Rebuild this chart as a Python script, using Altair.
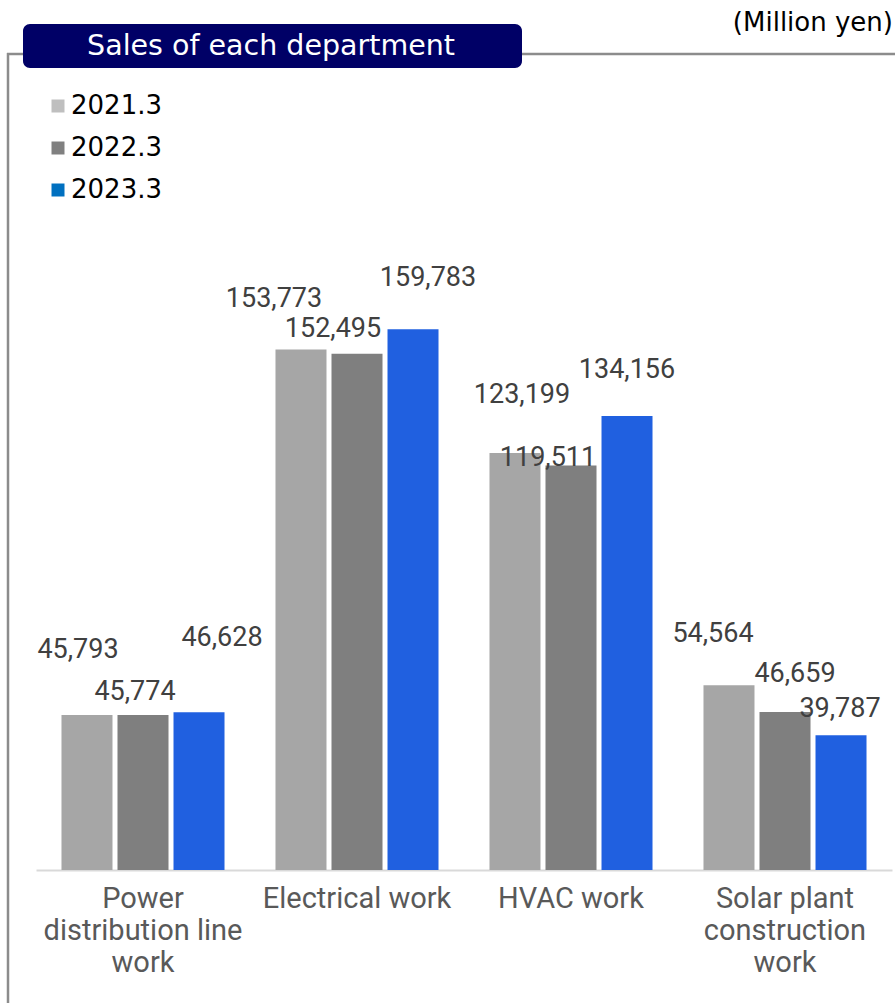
import altair as alt
import pandas as pd

# ---- data ----
categories = ["Power distribution line work", "Electrical work", "HVAC work", "Solar plant construction work"]
category_lines = [["Power", "distribution line", "work"], ["Electrical work"], ["HVAC work"], ["Solar plant", "construction", "work"]]
series = ["2021.3", "2022.3", "2023.3"]
sales_2021 = [45793, 153773, 123199, 54564]
sales_2022 = [45774, 152495, 119511, 46659]
sales_2023 = [46628, 159783, 134156, 39787]
title_text = "Sales of each department"
unit_text = "(Million yen)"

# label nudges (pixels), per series, per category
label_dx = {"2021.3": [-9, -27, 7, -16], "2022.3": [-8, -24, -23, 10], "2023.3": [23, 15, 0, -1]}
label_dy = {"2021.3": [-57, -42, -50, -43], "2022.3": [-15, -17, 1, -30], "2023.3": [-66, -43, -38, -18]}

bar_colors = ["#A6A6A6", "#7F7F7F", "#2060E0"]
legend_colors = ["#BFBFBF", "#808080", "#0070C0"]

rows = []
for s, vals in zip(series, [sales_2021, sales_2022, sales_2023]):
    for i, (c, v) in enumerate(zip(categories, vals)):
        rows.append({"category": c, "series": s, "value": v,
                     "label": f"{v:,}", "ldx": label_dx[s][i], "ldy": label_dy[s][i]})
df = pd.DataFrame(rows)

W, H = 856, 677
PAD_L, PAD_T, PAD_R, PAD_B = 36, 193, 3, 133

label_expr = " : ".join(
    f"datum.label == '{c}' ? {lines!r}" for c, lines in zip(categories, category_lines)
) + " : datum.label"

x_enc = alt.X("category:N", sort=categories, title=None,
              scale=alt.Scale(paddingInner=0, paddingOuter=0),
              axis=alt.Axis(labelAngle=0, ticks=False, domainColor="#D9D9D9", domainWidth=2,
                            labelFont="Roboto", labelFontSize=29, labelColor="#595959",
                            labelLineHeight=32, labelPadding=14, labelExpr=label_expr,
                            labelLimit=400))
xoff_enc = alt.XOffset("series:N", sort=series,
                       scale=alt.Scale(paddingInner=5 / 56, paddingOuter=0.455))
y_enc = alt.Y("value:Q", scale=alt.Scale(domain=[0, 200000]), axis=None)

base = alt.Chart(df)

bars = base.mark_bar().encode(
    x=x_enc, xOffset=xoff_enc, y=y_enc,
    color=alt.Color("series:N", scale=alt.Scale(domain=series, range=bar_colors), legend=None),
)

labels = base.mark_text(
    font="Roboto", fontSize=27, color="#404040", baseline="alphabetic", align="center",
    dx=alt.ExprRef(expr="datum.ldx"), dy=alt.ExprRef(expr="datum.ldy"),
).encode(x=x_enc, xOffset=xoff_enc, y=y_enc, text="label:N")

legend_layer = base.transform_filter("false").mark_square(opacity=1).encode(
    color=alt.Color("series:N", scale=alt.Scale(domain=series, range=legend_colors),
                    legend=alt.Legend(title=None, orient="none", legendX=9, legendY=-100,
                                      symbolType="square", symbolSize=169, symbolStrokeWidth=0,
                                      symbolOpacity=1,
                                      labelFont="DejaVu Sans", labelFontSize=26, labelColor="#000000",
                                      rowPadding=16, labelOffset=0, padding=0, direction="vertical"))
)

one = alt.Chart(pd.DataFrame({"t": [title_text], "u": [unit_text]}))

title_box = one.mark_rect(color="#000066", cornerRadius=7).encode(
    x=alt.value(-13), x2=alt.value(486), y=alt.value(-169), y2=alt.value(-125))
title_lbl = one.mark_text(font="DejaVu Sans", fontSize=28.5, color="white", baseline="middle",
                          align="center").encode(x=alt.value(235), y=alt.value(-147), text="t:N")
unit_lbl = one.mark_text(font="DejaVu Sans", fontSize=26, color="black", baseline="middle",
                         align="right").encode(x=alt.value(857), y=alt.value(-170), text="u:N")

frame_color = "#8C8C8C"
frame_v = one.mark_rule(color=frame_color, strokeWidth=2.5).encode(
    x=alt.value(-28), y=alt.value(-140), y2=alt.value(815))
frame_h1 = one.mark_rule(color=frame_color, strokeWidth=2.5).encode(
    x=alt.value(-29), x2=alt.value(-13), y=alt.value(-139))
frame_h2 = one.mark_rule(color=frame_color, strokeWidth=2.5).encode(
    x=alt.value(486), x2=alt.value(862), y=alt.value(-139))

chart = alt.layer(
    frame_v, frame_h1, frame_h2, title_box, title_lbl, unit_lbl, bars, labels, legend_layer
).resolve_scale(color="independent").properties(
    width=W, height=H,
    autosize=alt.AutoSizeParams(type="none"),
    padding={"left": PAD_L, "top": PAD_T, "right": PAD_R, "bottom": PAD_B},
).configure_view(stroke=None)

chart.save("out.html", embed_options={"renderer": "svg", "actions": False})
